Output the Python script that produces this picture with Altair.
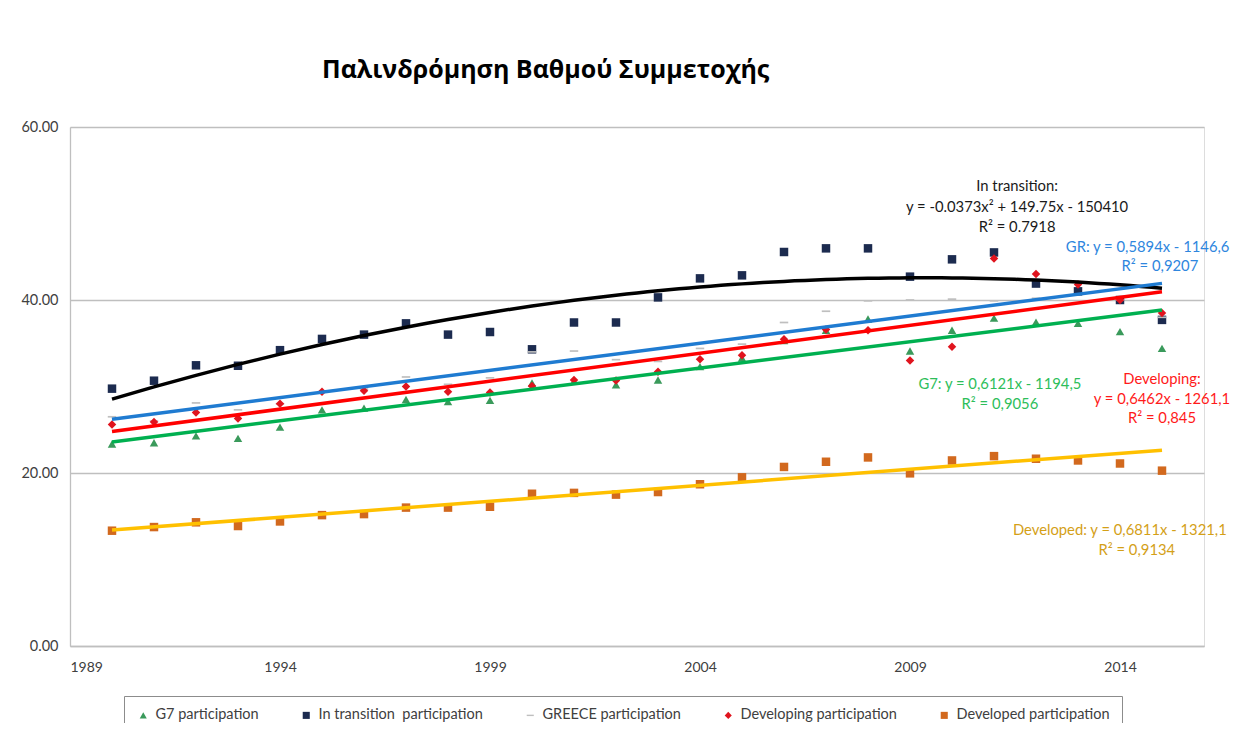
import altair as alt
import pandas as pd

years = list(range(1990, 2016))

g7 = [23.35, 23.5, 24.3, 24.0, 25.3, 27.3, 27.5, 28.5, 28.25, 28.4,
      30.4, 30.6, 30.2, 30.75, 32.3, 33.3, 35.3, 36.5, 37.8, 34.1,
      36.5, 37.9, 37.45, 37.3, 36.35, 34.4]
transition = [29.75, 30.67, 32.45, 32.4, 34.2, 35.5, 36.0, 37.3, 36.0, 36.3,
              34.3, 37.4, 37.4, 40.3, 42.5, 42.85, 45.55, 45.97, 45.97, 42.7,
              44.7, 45.5, 41.9, 41.0, 40.0, 37.7]
greece = [26.5, 26.0, 28.1, 27.3, 28.0, 29.4, 29.7, 31.1, 30.25, 31.0,
          34.0, 34.1, 33.1, 32.9, 34.4, 34.9, 37.4, 38.7, 39.9, 40.0,
          40.1, 39.9, 40.2, 40.7, 40.0, 38.0]
developing = [25.6, 25.9, 27.0, 26.3, 28.0, 29.4, 29.5, 30.0, 29.4, 29.3,
              30.05, 30.75, 30.7, 31.7, 33.15, 33.6, 35.45, 36.6, 36.5, 33.0,
              34.6, 44.8, 43.0, 41.8, 40.0, 38.5]
developed = [13.33, 13.75, 14.3, 13.87, 14.4, 15.13, 15.25, 16.0, 16.0, 16.1,
             17.6, 17.7, 17.5, 17.8, 18.7, 19.5, 20.7, 21.3, 21.8, 19.96,
             21.45, 21.95, 21.65, 21.45, 21.1, 20.27]

series_names = ["G7 participation", "In transition\u00a0 participation", "GREECE participation",
                "Developing participation", "Developed participation"]
series_values = [g7, transition, greece, developing, developed]

point_colors = ["#3A9A5B", "#1C2B4F", "#BFBFBF", "#E0141E", "#D2691E"]
point_shapes = ["triangle-up", "square", "M-1,-0.2L1,-0.2L1,0.2L-1,0.2Z", "diamond", "square"]
trend_colors = ["#00B050", "#000000", "#1F7BD1", "#FF0000", "#FFC000"]

# annotation texts (trendline equations) with their anchor in data units
ann_text = ["In transition:", "y = -0.0373x\u00b2 + 149.75x - 150410", "R\u00b2 = 0.7918",
            "GR: y = 0,5894x - 1146,6", "R\u00b2 = 0,9207",
            "G7: y = 0,6121x - 1194,5", "R\u00b2 = 0,9056",
            "Developing:", "y = 0,6462x - 1261,1", "R\u00b2 = 0,845",
            "Developed: y = 0,6811x - 1321,1", "R\u00b2 = 0,9134"]
ann_year = [2011.55, 2011.55, 2011.55, 2012.71, 2014.95, 2011.14, 2011.14,
            2015.0, 2015.0, 2015.0, 2011.45, 2014.4]
ann_value = [53.06, 50.64, 48.32, 46.0, 43.8, 30.17, 27.86, 30.75, 28.44, 26.24, 13.29, 10.98]
ann_color = ["#1A1A1A", "#1A1A1A", "#1A1A1A", "#2E86DE", "#2E86DE", "#2DBE5A", "#2DBE5A",
             "#FF1A1A", "#FF1A1A", "#FF1A1A", "#D4A017", "#D4A017"]
ann_align = ["center", "center", "center", "left", "center", "center", "center",
             "center", "center", "center", "left", "center"]

rows = []
for name, vals in zip(series_names, series_values):
    for yr, v in zip(years, vals):
        rows.append({"year": yr, "value": v, "series": name})
df = pd.DataFrame(rows)

ann = pd.DataFrame({"text": ann_text, "year": ann_year, "value": ann_value,
                    "color": ann_color, "align": ann_align})

FONT = "Lato"

x_scale = alt.Scale(domain=[1989, 2016], nice=False, zero=False)
y_scale = alt.Scale(domain=[0, 60], nice=False)

x_axis = alt.Axis(values=[1989, 1994, 1999, 2004, 2009, 2014], format="d", grid=False,
                  ticks=False, domainColor="#BFBFBF", domainWidth=1.3, labelPadding=14,
                  labelFontSize=14, labelColor="#404040", labelFont=FONT, title=None)
y_axis = alt.Axis(values=[0, 20, 40, 60], format=".2f", grid=True, gridColor="#BFBFBF",
                  gridWidth=1.3, ticks=False, domainColor="#BFBFBF", domainWidth=1.3,
                  labelPadding=12, labelFontSize=14.5, labelColor="#404040", labelFont=FONT,
                  title=None)

points = alt.Chart(df).mark_point(filled=True, size=72, opacity=1).encode(
    x=alt.X("year:Q", scale=x_scale, axis=x_axis),
    y=alt.Y("value:Q", scale=y_scale, axis=y_axis),
    color=alt.Color("series:N", scale=alt.Scale(domain=series_names, range=point_colors),
                    legend=alt.Legend(title=None)),
    shape=alt.Shape("series:N", scale=alt.Scale(domain=series_names, range=point_shapes),
                    legend=alt.Legend(title=None)),
)

layers = [points]
for name, col in zip(series_names, trend_colors):
    base = alt.Chart(df).transform_filter(alt.datum.series == name)
    if name.startswith("In transition"):
        base = base.transform_regression("year", "value", method="poly", order=2, extent=[1990, 2015])
    else:
        base = base.transform_regression("year", "value", extent=[1990, 2015])
    layers.append(base.mark_line(color=col, strokeWidth=3.5).encode(x="year:Q", y="value:Q"))

for al in ["center", "left"]:
    layers.append(
        alt.Chart(ann).transform_filter(alt.datum.align == al).mark_text(
            align=al, baseline="middle", font=FONT, fontSize=14.8
        ).encode(
            x="year:Q", y="value:Q", text="text:N",
            color=alt.Color("color:N", scale=None),
        )
    )

chart = alt.layer(*layers).properties(
    width=1134, height=519,
    autosize=alt.AutoSizeParams(type="none"),
    padding={"left": 62, "top": 119, "right": 32, "bottom": 77},
    title=alt.TitleParams("Παλινδρόμηση Βαθμού Συμμετοχής", anchor="start", frame="group",
                          dx=252, offset=36, font="Open Sans", fontSize=25, fontWeight="bold",
                          color="#000000"),
).configure_view(stroke=None).configure(background="white").configure_legend(
    orient="none", legendX=54, legendY=569, direction="horizontal",
    strokeColor="#8C8C8C", padding=12, columnPadding=40, labelFontSize=14.5,
    labelFont=FONT, labelColor="#404040", symbolSize=50, labelOffset=5, labelLimit=400,
)

chart.save("out.html", embed_options={"renderer": "svg", "actions": False})
